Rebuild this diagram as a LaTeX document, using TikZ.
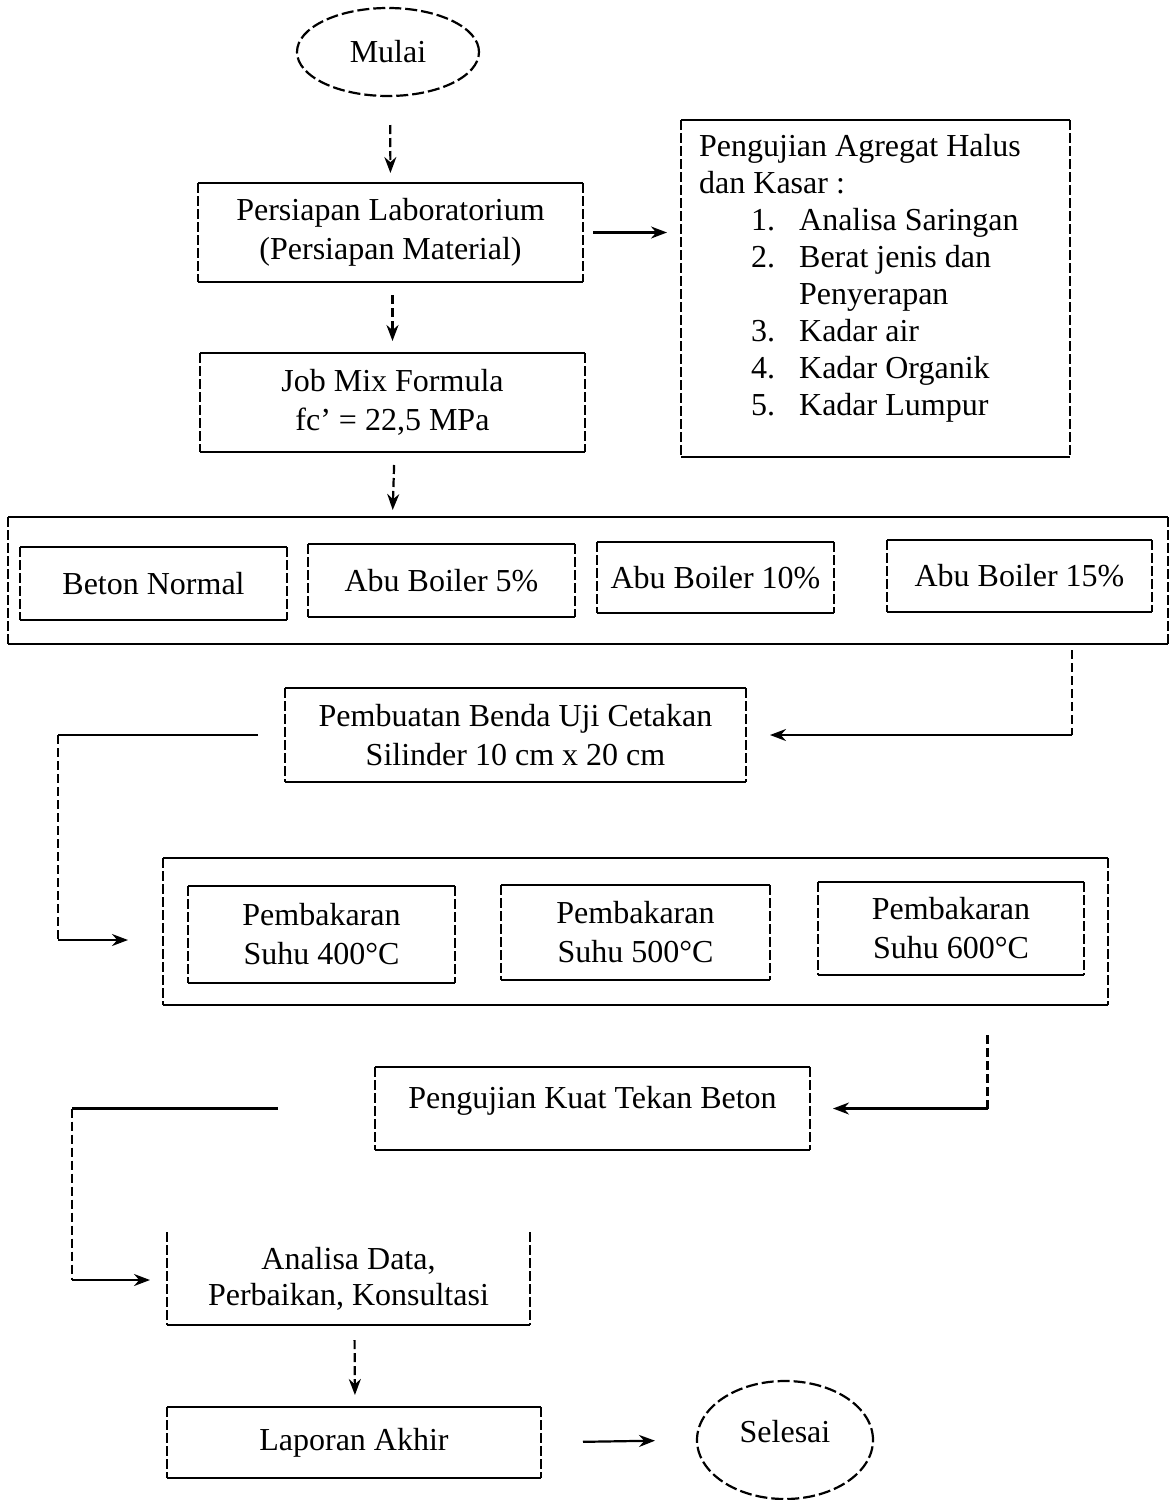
\documentclass[tikz,border=0pt]{standalone}
\usepackage{fontspec}
\setmainfont{Liberation Serif}
\usetikzlibrary{shapes.geometric,arrows.meta,calc}
\newcommand\scanbox[1]{%
  \draw[hline] (#1.north west) -- (#1.north east);
  \draw[hline] (#1.south west) -- (#1.south east);
  \draw[vline] (#1.north west) -- (#1.south west);
  \draw[vline] (#1.north east) -- (#1.south east);}
\newcommand\litem[2]{\hspace*{52pt}\makebox[48pt][l]{#1}#2}
\begin{document}
\begin{tikzpicture}[x=1pt,y=-1pt,
  hline/.style={line width=2.2pt},
  vline/.style={line width=2.2pt,dash pattern=on 10pt off 3pt},
  vdash/.style={line width=2.2pt,dash pattern=on 9pt off 4pt},
  tip/.style={-{Stealth[length=16pt,width=12pt]}},
  box/.style={rectangle,inner sep=0pt,outer sep=0pt,align=center,
    font=\fontsize{32}{39}\selectfont},
  term/.style={ellipse,inner sep=0pt,outer sep=0pt,line width=2.2pt,
    dash pattern=on 12pt off 4pt,draw,font=\fontsize{32}{39}\selectfont}]
\useasboundingbox (0,0) rectangle (1175,1500);
\fill[white] (0,0) rectangle (1175,1500);

% nodes
\node[term,minimum width=182pt,minimum height=88pt] (mulai) at (388,52) {Mulai};
\node[box,minimum width=385pt,minimum height=99pt] (persiapan) at (390.5,232.5)
  {Persiapan Laboratorium\\(Persiapan Material)};
\node[box,minimum width=385pt,minimum height=99pt] (job) at (392.5,402.5)
  {Job Mix Formula\\fc’ = 22,5 MPa};
\node[box,minimum width=389pt,minimum height=337pt] (uji) at (875.5,288.5) {};
\node[anchor=north west,inner sep=0pt,align=left,
  font=\fontsize{32}{37}\selectfont] (ujitxt) at ($(uji.north west)+(18,14)$)
  {Pengujian Agregat Halus\\dan Kasar :\\
   \litem{1.}{Analisa Saringan}\\
   \litem{2.}{Berat jenis dan}\\
   \litem{}{Penyerapan}\\
   \litem{3.}{Kadar air}\\
   \litem{4.}{Kadar Organik}\\
   \litem{5.}{Kadar Lumpur}};

\node[box,minimum width=1160pt,minimum height=127pt] (big1) at (588,580.5) {};
\node[box,minimum width=267pt,minimum height=73pt] (beton) at (153.5,583.5) {Beton Normal};
\node[box,minimum width=267pt,minimum height=73pt] (ab5) at (441.5,580.5) {Abu Boiler 5\%};
\node[box,minimum width=237pt,minimum height=71pt] (ab10) at (715.5,577.5) {Abu Boiler 10\%};
\node[box,minimum width=265pt,minimum height=72pt] (ab15) at (1019.5,576) {Abu Boiler 15\%};

\node[box,minimum width=461pt,minimum height=94pt] (buat) at (515.5,735)
  {Pembuatan Benda Uji Cetakan\\Silinder 10 cm x 20 cm};

\node[box,minimum width=945pt,minimum height=147pt] (big2) at (635.5,931.5) {};
\node[box,minimum width=267pt,minimum height=97pt] (p400) at (321.5,934.5) {Pembakaran\\Suhu 400°C};
\node[box,minimum width=269pt,minimum height=95pt] (p500) at (635.5,932.5) {Pembakaran\\Suhu 500°C};
\node[box,minimum width=266pt,minimum height=93pt] (p600) at (951,928.5) {Pembakaran\\Suhu 600°C};

\node[box,minimum width=435pt,minimum height=83pt] (kuat) at (592.5,1108.5)
  {\raisebox{8pt}[\height][\depth]{Pengujian Kuat Tekan Beton}};
\node[box,minimum width=363pt,minimum height=93pt,
  font=\fontsize{32}{36}\selectfont] (analisa) at (348.5,1278.5)
  {Analisa Data,\\Perbaikan, Konsultasi};
\node[box,minimum width=374pt,minimum height=71pt] (laporan) at (354,1442.5) {Laporan Akhir};
\node[term,minimum width=176pt,minimum height=118pt] (selesai) at (785,1440)
  {\raisebox{8pt}[\height][\depth]{Selesai}};

% box outlines
\scanbox{persiapan}
\scanbox{job}
\scanbox{uji}
\scanbox{big1}
\scanbox{beton}
\scanbox{ab5}
\scanbox{ab10}
\scanbox{ab15}
\scanbox{buat}
\scanbox{big2}
\scanbox{p400}
\scanbox{p500}
\scanbox{p600}
\scanbox{kuat}
\scanbox{laporan}
\draw[hline] (analisa.south west) -- (analisa.south east);
\draw[vline] (analisa.north west) -- (analisa.south west);
\draw[vline] (analisa.north east) -- (analisa.south east);

% connectors
\draw[vdash,tip,shorten <=29pt,shorten >=10pt] ($(mulai.south)+(2,0)$) -- ($(persiapan.north)+(0,0)$);
\draw[vdash,tip,shorten <=13pt,shorten >=12pt] ($(persiapan.south)+(2,0)$) -- ($(job.north)+(0,0)$);
\draw[vdash,tip,shorten <=13pt,shorten >=7pt] ($(job.south)+(2,0)$) -- (job.south |- big1.north);
\draw[hline,tip,shorten <=10pt,shorten >=14pt] (persiapan.east) -- (uji.west |- persiapan.east);

\coordinate (c1) at ($(big1.south)+(484,6)$);
\draw[vdash] (c1) -- (c1 |- buat.east);
\draw[hline,tip,shorten >=24pt] (c1 |- buat.east) -- (buat.east);

\coordinate (c2) at (58,735);
\coordinate (c3) at (58,940);
\draw[hline,shorten <=27pt] (buat.west) -- (c2);
\draw[vdash] (c2) -- (c3);
\draw[hline,tip,shorten >=35pt] (c3) -- (big2.west |- c3);

\coordinate (c4) at ($(big2.south)+(352,30)$);
\draw[vdash] (c4) -- (c4 |- kuat.east);
\draw[hline,tip,shorten >=23pt] (c4 |- kuat.east) -- (kuat.east);

\coordinate (c5) at (72,1108.5);
\coordinate (c6) at (72,1280);
\draw[hline,shorten <=97pt] (kuat.west) -- (c5);
\draw[vdash] (c5) -- (c6);
\draw[hline,tip,shorten >=17pt] (c6) -- (analisa.west |- c6);

\draw[vdash,tip,shorten <=15pt,shorten >=12pt] ($(analisa.south)+(6,0)$) -- ($(laporan.north)+(1,0)$);
\draw[hline,tip,shorten <=42pt,shorten >=42pt] (laporan.east) -- (selesai.west);
\end{tikzpicture}
\end{document}
